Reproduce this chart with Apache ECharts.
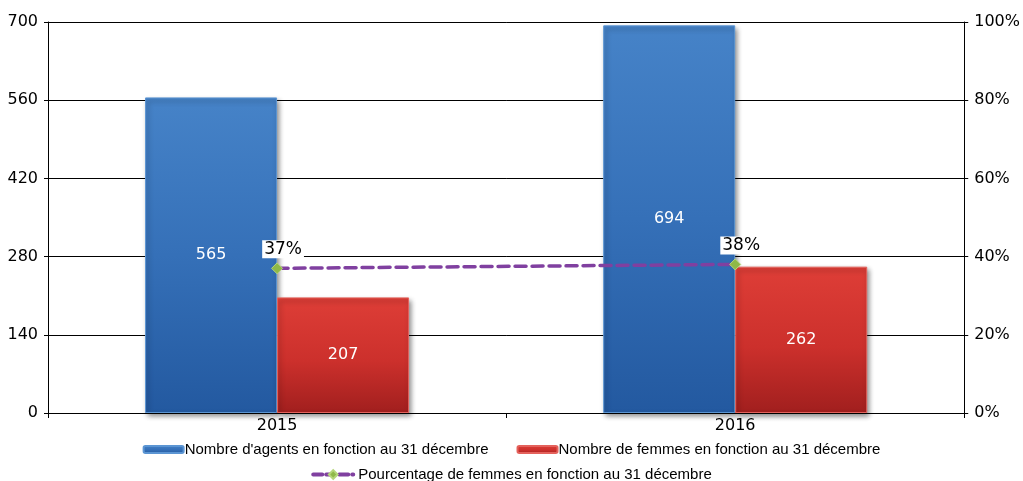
<!DOCTYPE html>
<html>
<head>
<meta charset="utf-8">
<script src="https://cdn.jsdelivr.net/npm/echarts@6/dist/echarts.min.js"></script>
<style>
  html, body { margin: 0; padding: 0; background: #fff; }
  #chart { width: 1023px; height: 481px; }
</style>
</head>
<body>
<div id="chart"></div>
<script>
// Effectifs au 31 décembre
const years = ['2015', '2016'];
const agents = [565, 694];
const femmes = [207, 262];
const pctFemmes = [37, 38];
const leftTicks = [0, 140, 280, 420, 560, 700];
const rightTicks = [0, 20, 40, 60, 80, 100];

const nameAgents = "Nombre d'agents en fonction au 31 décembre";
const nameFemmes = 'Nombre de femmes en fonction au 31 décembre';
const namePct = 'Pourcentage de femmes en fonction au 31 décembre';

const axisFont = 'DejaVu Sans';
const legendFont = 'Liberation Sans';

const blueFill = new echarts.graphic.LinearGradient(0, 0, 0, 1, [
  { offset: 0, color: '#4683c8' },
  { offset: 0.5, color: '#3570b8' },
  { offset: 1, color: '#2359a0' }
]);
const redFill = new echarts.graphic.LinearGradient(0, 0, 0, 1, [
  { offset: 0, color: '#de3e37' },
  { offset: 0.55, color: '#cc302c' },
  { offset: 1, color: '#a11f1e' }
]);

const chart = echarts.init(document.getElementById('chart'), null, { renderer: 'canvas' });

chart.setOption({
  animation: false,
  backgroundColor: '#ffffff',
  grid: { left: 48, right: 58, top: 22, bottom: 68, containLabel: false },
  legend: [
    {
      data: [nameAgents, nameFemmes],
      top: 437,
      left: 'center',
      itemWidth: 40,
      itemHeight: 7,
      itemGap: 28,
      textStyle: { fontFamily: legendFont, fontSize: 15, color: '#000', padding: [0, 0, 0, -4] }
    },
    {
      data: [{ name: namePct, lineStyle: { width: 4, type: [9, 4] } }],
      top: 462,
      left: 'center',
      itemWidth: 40,
      itemHeight: 11,
      textStyle: { fontFamily: legendFont, fontSize: 15, color: '#000' }
    }
  ],
  xAxis: {
    type: 'category',
    data: years,
    axisLine: { show: true, lineStyle: { color: '#000', width: 1 } },
    axisTick: { show: true, length: 5, lineStyle: { color: '#000' } },
    axisLabel: { fontFamily: axisFont, fontSize: 16, color: '#000', margin: 5 }
  },
  yAxis: [
    {
      type: 'value',
      min: leftTicks[0],
      max: leftTicks[leftTicks.length - 1],
      interval: leftTicks[1] - leftTicks[0],
      axisLine: { show: true, lineStyle: { color: '#000', width: 1 } },
      axisTick: { show: true, length: 4, lineStyle: { color: '#000' } },
      splitLine: { show: true, lineStyle: { color: '#000', width: 1 } },
      axisLabel: { fontFamily: axisFont, fontSize: 16, color: '#000', margin: 10 }
    },
    {
      type: 'value',
      min: rightTicks[0],
      max: rightTicks[rightTicks.length - 1],
      interval: rightTicks[1] - rightTicks[0],
      position: 'right',
      axisLine: { show: true, lineStyle: { color: '#000', width: 1 } },
      axisTick: { show: true, length: 4, lineStyle: { color: '#000' } },
      splitLine: { show: false },
      axisLabel: { fontFamily: axisFont, fontSize: 16, color: '#000', margin: 10, formatter: '{value}%' }
    }
  ],
  series: [
    {
      name: nameAgents,
      type: 'bar',
      data: agents,
      barWidth: 132,
      barGap: '0%',
      itemStyle: {
        color: blueFill,
        borderColor: '#5b95d3',
        borderWidth: 1,
        shadowBlur: 5,
        shadowOffsetX: 2,
        shadowOffsetY: 3,
        shadowColor: 'rgba(0,0,0,0.45)'
      },
      label: {
        show: true,
        position: 'inside',
        color: '#fff',
        fontFamily: axisFont,
        fontSize: 16
      },
      z: 2
    },
    {
      name: nameFemmes,
      type: 'bar',
      data: femmes,
      barWidth: 132,
      barGap: '0%',
      itemStyle: {
        color: redFill,
        borderColor: '#e4625c',
        borderWidth: 1,
        shadowBlur: 5,
        shadowOffsetX: 2,
        shadowOffsetY: 3,
        shadowColor: 'rgba(0,0,0,0.45)'
      },
      label: {
        show: true,
        position: 'inside',
        color: '#fff',
        fontFamily: axisFont,
        fontSize: 16
      },
      z: 2
    },
    {
      name: namePct,
      type: 'line',
      yAxisIndex: 1,
      data: pctFemmes,
      symbol: 'diamond',
      symbolSize: 11,
      itemStyle: { color: '#8fb848', borderColor: '#b5d67a', borderWidth: 1 },
      lineStyle: { color: '#8040a0', width: 3.5, type: [11, 6], cap: 'round' },
      label: {
        show: true,
        position: 'top',
        distance: 4,
        offset: [6, 0],
        formatter: '{c}%',
        color: '#000',
        fontFamily: axisFont,
        fontSize: 17,
        backgroundColor: '#fff',
        padding: [1, 2, 0, 2]
      },
      z: 5
    }
  ]
});
</script>
</body>
</html>
